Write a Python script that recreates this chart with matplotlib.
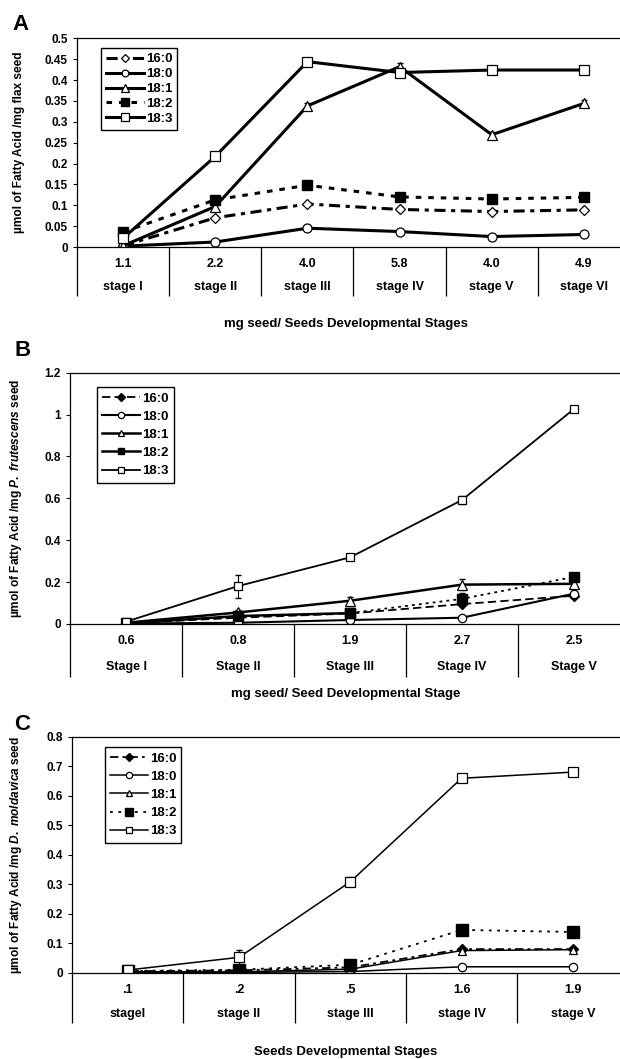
import numpy as np
import matplotlib.pyplot as plt

plt.rcParams['font.family'] = ['Liberation Sans', 'DejaVu Sans']
plt.rcParams['font.weight'] = 'bold'
plt.rcParams['mathtext.fontset'] = 'custom'
plt.rcParams['mathtext.it'] = 'Liberation Sans:italic:bold'
plt.rcParams['mathtext.rm'] = 'Liberation Sans:bold'
plt.rcParams['lines.scale_dashes'] = False

acidos = ['16:0', '18:0', '18:1', '18:2', '18:3']

# Panel A - lino
masa_a = ['1.1', '2.2', '4.0', '5.8', '4.0', '4.9']
etapas_a = ['stage I', 'stage II', 'stage III', 'stage IV', 'stage V', 'stage VI']
a_160 = [0.003, 0.070, 0.103, 0.090, 0.085, 0.089]
a_180 = [0.002, 0.012, 0.045, 0.037, 0.025, 0.030]
a_181 = [0.003, 0.097, 0.338, 0.432, 0.269, 0.344]
a_182 = [0.036, 0.113, 0.148, 0.120, 0.115, 0.119]
a_183 = [0.021, 0.217, 0.444, 0.418, 0.424, 0.424]
err_a_181 = [0, 0.004, 0.008, 0.010, 0.006, 0.008]

# Panel B - P. frutescens
masa_b = ['0.6', '0.8', '1.9', '2.7', '2.5']
etapas_b = ['Stage I', 'Stage II', 'Stage III', 'Stage IV', 'Stage V']
b_160 = [0.003, 0.030, 0.050, 0.095, 0.135]
b_180 = [0.002, 0.006, 0.019, 0.030, 0.145]
b_181 = [0.006, 0.055, 0.111, 0.188, 0.192]
b_182 = [0.003, 0.038, 0.052, 0.120, 0.225]
b_183 = [0.011, 0.181, 0.318, 0.592, 1.027]
err_b_183 = [0, 0.055, 0.008, 0.020, 0.015]
err_b_181 = [0, 0.012, 0.020, 0.025, 0.020]
err_b_182 = [0, 0.010, 0, 0.030, 0]
err_b_180 = [0, 0, 0, 0, 0.020]

# Panel C - D. moldavica
masa_c = ['.1', '.2', '.5', '1.6', '1.9']
etapas_c = ['stageI', 'stage II', 'stage III', 'stage IV', 'stage V']
c_160 = [0.005, 0.008, 0.018, 0.080, 0.080]
c_180 = [0.002, 0.001, 0.004, 0.020, 0.020]
c_181 = [0.003, 0.003, 0.012, 0.075, 0.078]
c_182 = [0.006, 0.010, 0.027, 0.145, 0.138]
c_183 = [0.009, 0.052, 0.308, 0.659, 0.680]
err_c_183 = [0, 0.025, 0.015, 0.005, 0.005]


def ejes(ax, masas, etapas, ymax, paso, largo, espacio):
    n = len(masas)
    ax.set_xlim(-0.5, n - 0.5)
    ax.set_ylim(0, ymax)
    ax.set_yticks(np.arange(0, ymax + paso / 2, paso))
    ax.yaxis.set_major_formatter(lambda v, p: f'{v:g}')
    ax.set_xticks(np.arange(n))
    ax.set_xticklabels([f'{m}\n{e}' for m, e in zip(masas, etapas)],
                       linespacing=espacio, fontsize=9)
    ax.set_xticks(np.arange(n + 1) - 0.5, minor=True)
    ax.tick_params(axis='x', which='major', length=0, pad=8)
    ax.tick_params(axis='x', which='minor', length=largo, width=0.9)
    ax.tick_params(axis='y', length=3, width=0.8, labelsize=8.5)
    ax.spines['right'].set_visible(False)
    for s in ['left', 'top', 'bottom']:
        ax.spines[s].set_linewidth(0.9)


def leyenda(ax, x, y, largo, sep):
    ax.legend(loc='upper left', bbox_to_anchor=(x, y), borderaxespad=0,
              fancybox=False, edgecolor='black', framealpha=1, markerscale=0.75,
              prop={'size': 9.5, 'weight': 'bold'}, handlelength=largo,
              handletextpad=0.1, labelspacing=sep, borderpad=0.4)


fig = plt.figure(figsize=(6.2, 10.59), dpi=100)

# ---- A ----
ax = fig.add_axes([77 / 620, 1 - 247 / 1059, 553 / 620, 208.7 / 1059])
x = np.arange(len(masa_a))
ax.errorbar(x, a_181, yerr=err_a_181, fmt='none', ecolor='black', elinewidth=0.8, capsize=2)
ax.plot(x, a_160, color='black', lw=2.2, dashes=(8, 4, 3, 4), marker='D', ms=5,
        mfc='white', mec='black', mew=0.9, label=acidos[0])
ax.plot(x, a_180, color='black', lw=2.2, marker='o', ms=6.5, mfc='white', mec='black',
        mew=0.9, label=acidos[1])
ax.plot(x, a_181, color='black', lw=2.2, marker='^', ms=7, mfc='white', mec='black',
        mew=0.9, label=acidos[2])
ax.plot(x, a_182, color='black', lw=2.2, dashes=(4, 5), marker='s', ms=7.5, mfc='black',
        mec='black', label=acidos[3])
ax.plot(x, a_183, color='black', lw=2.2, marker='s', ms=7.5, mfc='white', mec='black',
        mew=0.9, label=acidos[4])
ejes(ax, masa_a, etapas_a, 0.5, 0.05, 35, 2.2)
ax.set_ylabel('µmol of Fatty Acid /mg flax seed', fontsize=8.6, fontweight='bold')
ax.yaxis.set_label_coords(-52 / 553, 0.5)
leyenda(ax, 0.043, 0.954, 2.9, 0.2)
fig.text(12 / 620, 1 - 25 / 1059, 'A', fontsize=16, fontweight='bold', va='center')
fig.text(346 / 620, 1 - 324 / 1059, 'mg seed/ Seeds Developmental Stages',
         fontsize=9.5, fontweight='bold', ha='center', va='center')

# ---- B ----
ax = fig.add_axes([70 / 620, 1 - 624 / 1059, 560 / 620, 251.3 / 1059])
x = np.arange(len(masa_b))
for serie, err in [(b_183, err_b_183), (b_181, err_b_181), (b_182, err_b_182), (b_180, err_b_180)]:
    ax.errorbar(x, serie, yerr=err, fmt='none', ecolor='black', elinewidth=0.8, capsize=2)
ax.plot(x, b_160, color='black', lw=1.3, dashes=(6, 3), marker='D', ms=5, mfc='black',
        mec='black', label=acidos[0])
ax.plot(x, b_180, color='black', lw=1.5, marker='o', ms=6, mfc='white', mec='black',
        mew=0.9, label=acidos[1])
ax.plot(x, b_181, color='black', lw=1.8, marker='^', ms=6.5, mfc='white', mec='black',
        mew=0.9, label=acidos[2])
ax.plot(x[:3], b_182[:3], color='black', lw=1.8, marker='s', ms=6.5, mfc='black',
        mec='black', label=acidos[3])
ax.plot(x[2:], b_182[2:], color='black', lw=1.3, dashes=(2, 3), marker='s', ms=6.5,
        mfc='black', mec='black')
ax.plot(x, b_183, color='black', lw=1.3, marker='s', ms=5.5, mfc='white', mec='black',
        mew=0.9, label=acidos[4])
ejes(ax, masa_b, etapas_b, 1.2, 0.2, 38, 2.55)
ax.set_ylabel('µmol of Fatty Acid /mg $P.$ $frutescens$ seed', fontsize=8.6, fontweight='bold')
ax.yaxis.set_label_coords(-46 / 560, 0.5)
leyenda(ax, 0.048, 0.943, 2.9, 0.45)
fig.text(14 / 620, 1 - 351 / 1059, 'B', fontsize=16, fontweight='bold', va='center')
fig.text(346 / 620, 1 - 694 / 1059, 'mg seed/ Seed Developmental Stage',
         fontsize=9.5, fontweight='bold', ha='center', va='center')

# ---- C ----
ax = fig.add_axes([72 / 620, 1 - 972.7 / 1059, 556.5 / 620, 236 / 1059])
x = np.arange(len(masa_c))
ax.errorbar(x, c_183, yerr=err_c_183, fmt='none', ecolor='black', elinewidth=0.8, capsize=2)
ax.plot(x, c_160, color='black', lw=1.3, dashes=(6, 3, 2, 3), marker='D', ms=5,
        mfc='black', mec='black', label=acidos[0])
ax.plot(x, c_180, color='black', lw=1.1, marker='o', ms=6, mfc='white', mec='black',
        mew=0.9, label=acidos[1])
ax.plot(x, c_181, color='black', lw=1.1, marker='^', ms=5.5, mfc='white', mec='black',
        mew=0.9, label=acidos[2])
ax.plot(x, c_182, color='black', lw=1.3, dashes=(2, 4), marker='s', ms=8, mfc='black',
        mec='black', label=acidos[3])
ax.plot(x, c_183, color='black', lw=1.1, marker='s', ms=6.5, mfc='white', mec='black',
        mew=0.9, label=acidos[4])
ejes(ax, masa_c, etapas_c, 0.8, 0.1, 36, 2.35)
ax.set_ylabel('µmol of Fatty Acid /mg $D.$ $moldavica$ seed', fontsize=8.6, fontweight='bold')
ax.yaxis.set_label_coords(-48 / 556.5, 0.5)
leyenda(ax, 0.059, 0.956, 2.9, 0.45)
fig.text(14 / 620, 1 - 724 / 1059, 'C', fontsize=16, fontweight='bold', va='center')
fig.text(346 / 620, 1 - 1052 / 1059, 'Seeds Developmental Stages',
         fontsize=9.5, fontweight='bold', ha='center', va='center')

fig.savefig('out.png', dpi=100)
